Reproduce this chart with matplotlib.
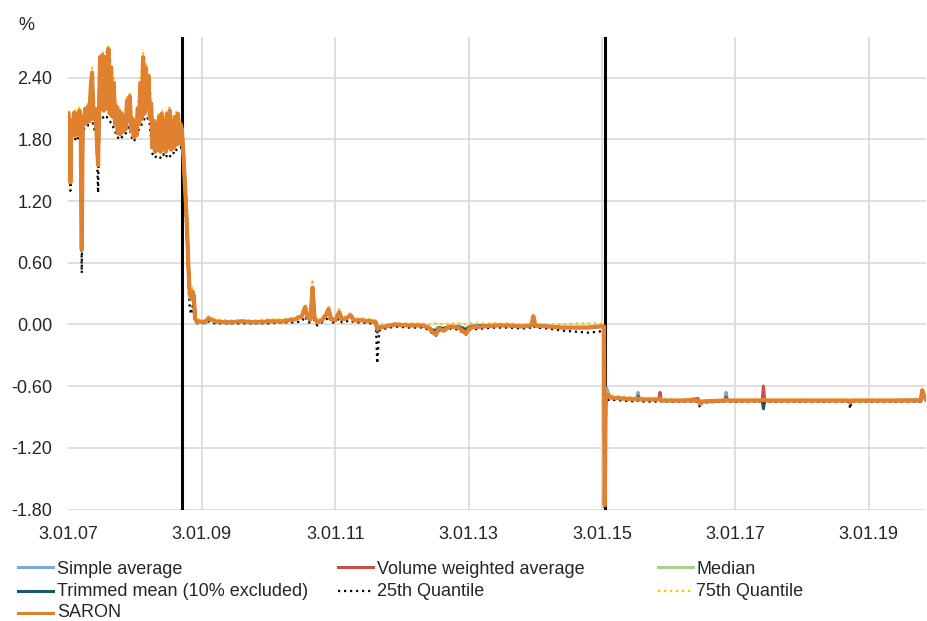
import matplotlib
matplotlib.use("Agg")
import matplotlib.pyplot as plt
from matplotlib.lines import Line2D

# ---------------------------------------------------------------------------
# Data: overnight CHF repo rates (% p.a.), time axis in decimal years
# ---------------------------------------------------------------------------
t = [
    2007.000, 2007.015, 2007.030, 2007.045, 2007.065, 2007.085, 2007.105, 2007.125, 2007.145, 2007.165,
    2007.185, 2007.200, 2007.215, 2007.235, 2007.255, 2007.275, 2007.295, 2007.315, 2007.335, 2007.355,
    2007.375, 2007.395, 2007.420, 2007.445, 2007.460, 2007.475, 2007.490, 2007.510, 2007.530, 2007.550,
    2007.570, 2007.600, 2007.620, 2007.640, 2007.660, 2007.680, 2007.700, 2007.720, 2007.740, 2007.760,
    2007.780, 2007.800, 2007.820, 2007.840, 2007.860, 2007.880, 2007.900, 2007.920, 2007.940, 2007.960,
    2007.980, 2008.000, 2008.020, 2008.040, 2008.060, 2008.080, 2008.100, 2008.120, 2008.140, 2008.160,
    2008.180, 2008.200, 2008.220, 2008.240, 2008.260, 2008.280, 2008.300, 2008.320, 2008.340, 2008.360,
    2008.380, 2008.400, 2008.420, 2008.440, 2008.460, 2008.480, 2008.500, 2008.520, 2008.540, 2008.560,
    2008.580, 2008.600, 2008.620, 2008.640, 2008.660, 2008.680, 2008.700, 2008.720, 2008.740, 2008.760,
    2008.780, 2008.800, 2008.820, 2008.840, 2008.860, 2008.880, 2008.900, 2008.930, 2008.960,
    2009.05, 2009.10, 2009.20, 2009.40, 2009.60, 2009.80, 2010.00, 2010.20, 2010.40, 2010.50,
    2010.55, 2010.59, 2010.63, 2010.66, 2010.69, 2010.73, 2010.80, 2010.87, 2010.90, 2010.94,
    2011.00, 2011.06, 2011.10, 2011.17, 2011.23, 2011.28, 2011.40, 2011.55, 2011.61, 2011.63,
    2011.66, 2011.75, 2011.90, 2012.10, 2012.30, 2012.40, 2012.47, 2012.51, 2012.55, 2012.62,
    2012.72, 2012.85, 2012.96, 2013.02, 2013.20, 2013.40, 2013.60, 2013.80, 2013.94, 2013.97,
    2014.00, 2014.20, 2014.40, 2014.60, 2014.80, 2014.95, 2015.03, 2015.04, 2015.055, 2015.07,
    2015.12, 2015.30, 2015.52, 2015.54, 2015.56, 2015.85, 2015.87, 2015.89, 2016.20, 2016.44,
    2016.47, 2016.50, 2016.84, 2016.86, 2016.88, 2017.40, 2017.42, 2017.44, 2018.00, 2018.70,
    2018.72, 2018.74, 2019.30, 2019.78, 2019.80, 2019.83, 2019.86,
]

saron = [
    2.05, 1.95, 1.38, 1.98, 1.86, 2.06, 1.84, 2.05, 1.85, 2.08,
    1.88, 0.73, 2.02, 1.95, 2.10, 1.96, 2.12, 1.98, 2.30, 2.45,
    2.00, 2.10, 1.90, 1.55, 2.08, 2.60, 2.10, 2.62, 2.08, 2.60,
    2.10, 2.68, 2.05, 2.50, 2.02, 2.35, 1.95, 2.12, 1.86, 2.08,
    1.85, 2.05, 1.88, 2.02, 1.90, 2.18, 1.98, 2.22, 1.88, 2.00,
    1.82, 1.95, 1.84, 2.10, 1.95, 2.35, 2.00, 2.60, 2.05, 2.50,
    2.10, 2.42, 2.00, 2.15, 1.72, 1.98, 1.68, 1.95, 1.70, 2.02,
    1.68, 2.05, 1.72, 1.98, 1.68, 2.05, 1.72, 2.08, 1.70, 1.98,
    1.72, 2.02, 1.75, 2.05, 1.76, 1.95, 1.90, 1.70, 1.45, 1.20,
    0.90, 0.55, 0.30, 0.25, 0.32, 0.28, 0.06, 0.02, 0.03,
    0.02, 0.06, 0.03, 0.02, 0.03, 0.02, 0.03, 0.03, 0.05, 0.08,
    0.17, 0.06, 0.05, 0.36, 0.07, 0.02, 0.04, 0.10, 0.15, 0.05,
    0.04, 0.12, 0.05, 0.06, 0.09, 0.04, 0.04, 0.03, 0.02, -0.05,
    -0.03, -0.02, 0.00, -0.01, -0.01, -0.03, -0.08, -0.10, -0.04, -0.06,
    -0.02, -0.03, -0.09, -0.03, -0.02, -0.01, -0.01, -0.02, -0.01, 0.08,
    -0.01, -0.02, -0.03, -0.03, -0.03, -0.02, -0.02, -1.76, -0.70, -0.68,
    -0.71, -0.72, -0.73, -0.72, -0.73, -0.73, -0.72, -0.74, -0.74, -0.74,
    -0.77, -0.75, -0.74, -0.73, -0.74, -0.74, -0.73, -0.74, -0.74, -0.74,
    -0.76, -0.74, -0.74, -0.74, -0.64, -0.70, -0.73,
]

q25 = [
    1.95, 1.90, 1.30, 1.84, 1.82, 1.85, 1.80, 1.83, 1.81, 1.84,
    1.84, 0.50, 1.90, 1.90, 1.92, 1.92, 1.94, 1.94, 1.95, 1.96,
    1.95, 1.88, 1.85, 1.28, 1.95, 2.00, 2.02, 2.03, 2.00, 2.02,
    2.02, 2.00, 1.98, 1.96, 1.95, 1.90, 1.88, 1.83, 1.82, 1.80,
    1.80, 1.82, 1.84, 1.84, 1.86, 1.90, 1.92, 1.90, 1.84, 1.80,
    1.78, 1.80, 1.80, 1.88, 1.90, 1.92, 1.95, 1.98, 2.00, 2.02,
    2.02, 1.98, 1.95, 1.80, 1.66, 1.64, 1.62, 1.64, 1.64, 1.63,
    1.62, 1.65, 1.66, 1.63, 1.62, 1.65, 1.66, 1.64, 1.63, 1.66,
    1.67, 1.66, 1.70, 1.70, 1.72, 1.72, 1.74, 1.50, 1.30, 1.05,
    0.75, 0.40, 0.15, 0.10, 0.18, 0.12, 0.03, 0.01, 0.02,
    0.01, 0.03, 0.01, 0.01, 0.01, 0.01, 0.01, 0.02, 0.02, 0.03,
    0.08, 0.02, 0.02, 0.20, 0.03, -0.01, 0.02, 0.05, 0.08, 0.02,
    0.02, 0.06, 0.02, 0.03, 0.04, 0.02, 0.02, 0.01, 0.00, -0.38,
    -0.06, -0.04, -0.02, -0.03, -0.03, -0.05, -0.10, -0.11, -0.06, -0.07,
    -0.04, -0.05, -0.10, -0.05, -0.04, -0.03, -0.03, -0.04, -0.03, -0.01,
    -0.03, -0.04, -0.06, -0.07, -0.08, -0.07, -0.06, -1.80, -0.80, -0.74,
    -0.73, -0.74, -0.75, -0.74, -0.75, -0.75, -0.74, -0.75, -0.75, -0.75,
    -0.81, -0.76, -0.75, -0.74, -0.75, -0.75, -0.77, -0.75, -0.75, -0.75,
    -0.82, -0.75, -0.75, -0.75, -0.70, -0.73, -0.74,
]

q75 = [
    2.08, 2.06, 1.45, 2.02, 2.05, 2.09, 2.08, 2.09, 2.08, 2.11,
    2.10, 0.80, 2.08, 2.10, 2.13, 2.14, 2.15, 2.20, 2.35, 2.50,
    2.25, 2.14, 2.10, 1.60, 2.15, 2.63, 2.64, 2.65, 2.62, 2.63,
    2.65, 2.72, 2.60, 2.54, 2.45, 2.38, 2.22, 2.15, 2.12, 2.11,
    2.09, 2.08, 2.06, 2.06, 2.12, 2.21, 2.24, 2.25, 2.10, 2.03,
    1.98, 1.98, 2.05, 2.13, 2.25, 2.38, 2.50, 2.64, 2.58, 2.53,
    2.48, 2.45, 2.35, 2.18, 2.02, 2.01, 2.00, 1.98, 2.03, 2.05,
    2.07, 2.08, 2.05, 2.01, 2.05, 2.08, 2.10, 2.11, 2.05, 2.01,
    2.04, 2.05, 2.07, 2.08, 2.02, 1.98, 1.97, 1.78, 1.55, 1.35,
    1.00, 0.65, 0.36, 0.30, 0.36, 0.33, 0.08, 0.04, 0.05,
    0.04, 0.08, 0.05, 0.04, 0.04, 0.04, 0.05, 0.05, 0.07, 0.10,
    0.20, 0.08, 0.07, 0.44, 0.09, 0.04, 0.06, 0.13, 0.18, 0.07,
    0.06, 0.15, 0.07, 0.08, 0.12, 0.06, 0.06, 0.05, 0.04, -0.02,
    -0.01, 0.00, 0.01, 0.01, 0.01, 0.00, 0.00, 0.01, 0.01, 0.00,
    0.01, 0.01, 0.00, 0.01, 0.01, 0.01, 0.01, 0.00, 0.01, 0.09,
    0.00, 0.00, 0.00, 0.01, 0.01, 0.01, 0.00, -1.70, -0.66, -0.65,
    -0.69, -0.70, -0.71, -0.71, -0.71, -0.72, -0.71, -0.72, -0.73, -0.73,
    -0.74, -0.74, -0.73, -0.72, -0.73, -0.73, -0.72, -0.73, -0.73, -0.73,
    -0.74, -0.73, -0.73, -0.72, -0.62, -0.68, -0.71,
]

simple_avg = [
    2.04, 1.95, 1.40, 1.97, 1.86, 2.05, 1.84, 2.04, 1.85, 2.07,
    1.88, 0.72, 2.01, 1.95, 2.09, 1.96, 2.11, 1.98, 2.28, 2.42,
    2.00, 2.09, 1.90, 1.54, 2.07, 2.57, 2.10, 2.60, 2.08, 2.58,
    2.10, 2.66, 2.05, 2.49, 2.02, 2.34, 1.95, 2.11, 1.86, 2.07,
    1.85, 2.04, 1.88, 2.01, 1.90, 2.17, 1.98, 2.21, 1.88, 1.99,
    1.82, 1.94, 1.84, 2.09, 1.95, 2.34, 2.00, 2.58, 2.05, 2.49,
    2.10, 2.41, 2.00, 2.14, 1.72, 1.97, 1.68, 1.94, 1.70, 2.00,
    1.68, 2.03, 1.72, 1.97, 1.68, 2.03, 1.72, 2.06, 1.70, 1.97,
    1.72, 2.01, 1.75, 2.04, 1.76, 1.94, 1.90, 1.70, 1.45, 1.21,
    0.90, 0.55, 0.29, 0.24, 0.31, 0.27, 0.06, 0.02, 0.03,
    0.02, 0.06, 0.03, 0.02, 0.03, 0.02, 0.03, 0.03, 0.05, 0.08,
    0.16, 0.06, 0.05, 0.35, 0.07, 0.02, 0.04, 0.10, 0.15, 0.05,
    0.04, 0.12, 0.05, 0.06, 0.09, 0.04, 0.04, 0.03, 0.02, -0.08,
    -0.03, -0.02, 0.00, -0.01, -0.01, -0.03, -0.06, -0.05, -0.03, -0.04,
    -0.02, -0.02, -0.05, -0.02, -0.01, -0.01, -0.01, -0.02, -0.01, 0.06,
    -0.01, -0.02, -0.03, -0.03, -0.03, -0.02, -0.02, -1.75, -0.68, -0.62,
    -0.71, -0.72, -0.73, -0.66, -0.73, -0.73, -0.70, -0.74, -0.74, -0.74,
    -0.76, -0.75, -0.74, -0.66, -0.74, -0.74, -0.70, -0.74, -0.74, -0.74,
    -0.76, -0.74, -0.74, -0.73, -0.65, -0.70, -0.73,
]

vw_avg = [
    2.05, 1.95, 1.38, 1.98, 1.86, 2.06, 1.84, 2.05, 1.85, 2.08,
    1.88, 0.73, 2.02, 1.95, 2.10, 1.96, 2.12, 1.98, 2.30, 2.45,
    2.00, 2.10, 1.90, 1.55, 2.08, 2.60, 2.10, 2.62, 2.08, 2.60,
    2.10, 2.68, 2.05, 2.50, 2.02, 2.35, 1.95, 2.12, 1.86, 2.08,
    1.85, 2.05, 1.88, 2.02, 1.90, 2.18, 1.98, 2.22, 1.88, 2.00,
    1.82, 1.95, 1.84, 2.10, 1.95, 2.35, 2.00, 2.60, 2.05, 2.50,
    2.10, 2.42, 2.00, 2.15, 1.72, 1.98, 1.68, 1.95, 1.70, 2.02,
    1.68, 2.05, 1.72, 1.98, 1.68, 2.05, 1.72, 2.08, 1.70, 1.98,
    1.72, 2.02, 1.75, 2.05, 1.76, 1.95, 1.90, 1.70, 1.45, 1.20,
    0.90, 0.55, 0.30, 0.25, 0.32, 0.28, 0.06, 0.02, 0.03,
    0.02, 0.06, 0.03, 0.02, 0.03, 0.02, 0.03, 0.03, 0.05, 0.08,
    0.17, 0.06, 0.05, 0.36, 0.07, 0.02, 0.04, 0.10, 0.15, 0.05,
    0.04, 0.12, 0.05, 0.06, 0.09, 0.04, 0.04, 0.03, 0.02, -0.06,
    -0.03, -0.02, 0.00, -0.01, -0.01, -0.03, -0.07, -0.08, -0.04, -0.05,
    -0.02, -0.03, -0.07, -0.03, -0.02, -0.01, -0.01, -0.02, -0.01, 0.08,
    -0.01, -0.02, -0.03, -0.03, -0.03, -0.02, -0.02, -1.76, -0.70, -0.68,
    -0.71, -0.72, -0.73, -0.71, -0.73, -0.73, -0.66, -0.74, -0.74, -0.72,
    -0.76, -0.75, -0.74, -0.72, -0.74, -0.74, -0.60, -0.74, -0.74, -0.74,
    -0.75, -0.74, -0.74, -0.74, -0.64, -0.70, -0.73,
]

median = [
    2.05, 1.95, 1.39, 1.98, 1.86, 2.06, 1.84, 2.05, 1.85, 2.08,
    1.88, 0.73, 2.02, 1.95, 2.10, 1.96, 2.12, 1.98, 2.30, 2.45,
    2.00, 2.10, 1.90, 1.55, 2.08, 2.60, 2.10, 2.62, 2.08, 2.60,
    2.10, 2.68, 2.05, 2.50, 2.02, 2.35, 1.95, 2.12, 1.86, 2.08,
    1.85, 2.05, 1.88, 2.02, 1.90, 2.18, 1.98, 2.22, 1.88, 2.00,
    1.82, 1.95, 1.84, 2.10, 1.95, 2.35, 2.00, 2.60, 2.05, 2.50,
    2.10, 2.42, 2.00, 2.15, 1.72, 1.98, 1.68, 1.95, 1.70, 2.02,
    1.68, 2.05, 1.72, 1.98, 1.68, 2.05, 1.72, 2.08, 1.70, 1.98,
    1.72, 2.02, 1.75, 2.05, 1.76, 1.95, 1.90, 1.70, 1.45, 1.20,
    0.90, 0.55, 0.30, 0.25, 0.32, 0.28, 0.06, 0.02, 0.03,
    0.02, 0.06, 0.03, 0.02, 0.03, 0.02, 0.03, 0.03, 0.05, 0.08,
    0.17, 0.06, 0.05, 0.36, 0.07, 0.02, 0.04, 0.10, 0.15, 0.05,
    0.04, 0.12, 0.05, 0.06, 0.09, 0.04, 0.04, 0.03, 0.02, -0.05,
    -0.03, -0.02, 0.00, -0.01, -0.01, -0.03, -0.06, -0.05, -0.03, -0.04,
    -0.02, -0.02, -0.04, -0.02, -0.01, -0.01, -0.01, -0.02, -0.01, 0.05,
    -0.01, -0.02, -0.03, -0.03, -0.03, -0.02, -0.02, -1.76, -0.70, -0.68,
    -0.71, -0.72, -0.73, -0.72, -0.73, -0.73, -0.72, -0.74, -0.74, -0.74,
    -0.77, -0.75, -0.74, -0.73, -0.74, -0.74, -0.73, -0.74, -0.74, -0.74,
    -0.76, -0.74, -0.74, -0.74, -0.64, -0.70, -0.73,
]

trimmed = [
    2.04, 1.95, 1.39, 1.97, 1.86, 2.05, 1.84, 2.04, 1.85, 2.07,
    1.88, 0.73, 2.02, 1.95, 2.09, 1.96, 2.11, 1.98, 2.29, 2.44,
    2.00, 2.10, 1.90, 1.55, 2.08, 2.58, 2.10, 2.61, 2.08, 2.59,
    2.10, 2.67, 2.05, 2.50, 2.02, 2.35, 1.95, 2.12, 1.86, 2.08,
    1.85, 2.05, 1.88, 2.02, 1.90, 2.18, 1.98, 2.22, 1.88, 2.00,
    1.82, 1.95, 1.84, 2.10, 1.95, 2.35, 2.00, 2.59, 2.05, 2.50,
    2.10, 2.42, 2.00, 2.15, 1.72, 1.98, 1.68, 1.95, 1.70, 2.01,
    1.68, 2.04, 1.72, 1.98, 1.68, 2.04, 1.72, 2.07, 1.70, 1.98,
    1.72, 2.02, 1.75, 2.05, 1.76, 1.95, 1.90, 1.70, 1.45, 1.20,
    0.90, 0.55, 0.30, 0.25, 0.32, 0.28, 0.06, 0.02, 0.03,
    0.02, 0.06, 0.03, 0.02, 0.03, 0.02, 0.03, 0.03, 0.05, 0.08,
    0.16, 0.06, 0.05, 0.35, 0.07, 0.02, 0.04, 0.10, 0.15, 0.05,
    0.04, 0.12, 0.05, 0.06, 0.09, 0.04, 0.04, 0.03, 0.02, -0.07,
    -0.03, -0.02, 0.00, -0.01, -0.01, -0.03, -0.06, -0.06, -0.03, -0.04,
    -0.02, -0.02, -0.05, -0.02, -0.01, -0.01, -0.01, -0.02, -0.01, 0.06,
    -0.01, -0.02, -0.03, -0.03, -0.03, -0.02, -0.02, -1.75, -0.69, -0.67,
    -0.71, -0.72, -0.73, -0.70, -0.73, -0.73, -0.71, -0.74, -0.74, -0.74,
    -0.76, -0.75, -0.74, -0.71, -0.74, -0.74, -0.82, -0.74, -0.74, -0.74,
    -0.76, -0.74, -0.74, -0.74, -0.64, -0.70, -0.73,
]

# Event markers (Sept 2008, Jan 2015)
event_dates = [2008.70, 2015.04]

x_ticks = [2007, 2009, 2011, 2013, 2015, 2017, 2019]
x_labels = ["3.01.07", "3.01.09", "3.01.11", "3.01.13", "3.01.15", "3.01.17", "3.01.19"]
y_ticks = [-1.8, -1.2, -0.6, 0.0, 0.6, 1.2, 1.8, 2.4]
y_labels = ["-1.80", "-1.20", "-0.60", "0.00", "0.60", "1.20", "1.80", "2.40"]

# ---------------------------------------------------------------------------
plt.rcParams["font.family"] = ["Liberation Sans", "DejaVu Sans"]
TEXT = "#262626"
FS = 13

W, H = 927, 621
fig = plt.figure(figsize=(W / 100, H / 100), dpi=100)
ax = fig.add_axes([68.4 / W, 1 - 509.5 / H, (926 - 68.4) / W, (509.5 - 36.6) / H])

dots = (0, (1, 1.7))
series = [
    ("Simple average", simple_avg, dict(color="#7AA6DC", lw=2.2)),
    ("Volume weighted average", vw_avg, dict(color="#C9504F", lw=2.2)),
    ("Median", median, dict(color="#A9CF8C", lw=2.2)),
    ("Trimmed mean (10% excluded)", trimmed, dict(color="#1F5868", lw=2.2)),
    ("25th Quantile", q25, dict(color="black", lw=1.6, ls=dots)),
    ("75th Quantile", q75, dict(color="#FFC000", lw=1.6, ls=dots)),
    ("SARON", saron, dict(color="#E0812F", lw=3.0)),
]

for d in event_dates:
    ax.axvline(d, color="black", lw=2.2, zorder=1.5)

for i, (name, vals, st) in enumerate(series):
    ax.plot(t, vals, zorder=2 + i * 0.1, solid_joinstyle="round", **st)

ax.set_xlim(2007.0, 2019.857)
ax.set_ylim(-1.8, 2.8)
ax.set_xticks(x_ticks)
ax.set_xticklabels(x_labels)
ax.set_yticks(y_ticks)
ax.set_yticklabels(y_labels)
ax.tick_params(axis="both", length=0, labelsize=FS, colors=TEXT)
ax.tick_params(axis="x", pad=12)
ax.tick_params(axis="y", pad=11.5)
ax.grid(True, color="#D9D9D9", lw=1.2, zorder=0)
ax.set_axisbelow(True)
ax.xaxis.get_gridlines()[0].set_visible(False)
for s in ax.spines.values():
    s.set_visible(False)

fig.text(18 / W, 1 - 30 / H, "%", fontsize=FS, color=TEXT, va="baseline", ha="left")

# Legend laid out in three columns, filled row by row
handle_x = [(18, 53), (338, 373), (658, 693)]
text_x = [57, 377, 696]
line_y = [567.3, 590.5, 613.0]
base_y = [573.5, 596.0, 617.0]
slots = [(0, 0), (1, 0), (2, 0), (0, 1), (1, 1), (2, 1), (0, 2)]
for (name, vals, st), (c, r) in zip(series, slots):
    kw = dict(color=st["color"], lw=2.2)
    if "ls" in st:
        kw.update(ls=st["ls"], lw=1.6)
    x0, x1 = handle_x[c]
    fig.add_artist(Line2D([x0 / W, x1 / W], [1 - line_y[r] / H] * 2,
                          transform=fig.transFigure, **kw))
    fig.text(text_x[c] / W, 1 - base_y[r] / H, name, fontsize=FS, color=TEXT,
             va="baseline", ha="left")

fig.savefig("out.png", dpi=100)
